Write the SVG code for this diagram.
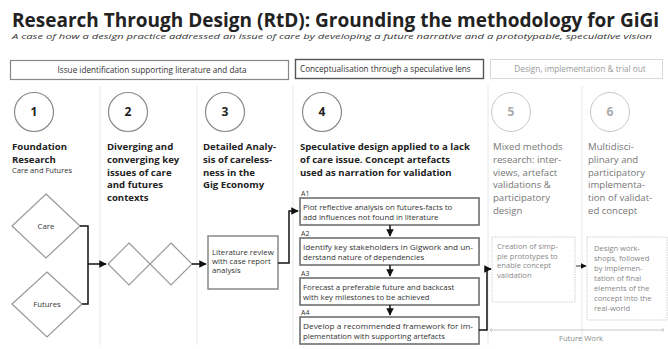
<svg xmlns="http://www.w3.org/2000/svg" width="668" height="349" viewBox="0 0 668 349">
<defs>
<marker id="ah" viewBox="0 0 10 10" refX="9" refY="5" markerWidth="5" markerHeight="5" orient="auto"><path d="M0,0 L10,5 L0,10 z" fill="#111"/></marker>
<style>
text{font-family:"Open Sans","Liberation Sans",sans-serif;fill:#222}
.title{font-size:19px;font-weight:bold}
.sub{font-size:7px;font-style:italic;fill:#333}
.phase{font-size:8.2px;fill:#333}
.sep{stroke:#e6e6e6;stroke-width:1}
.circ{fill:none;stroke:#8a8a8a;stroke-width:1.2}
.circl{fill:none;stroke:#c8c8c8;stroke-width:1}
.num{font-size:12px;font-weight:bold;text-anchor:middle}
.numl{font-size:12px;font-weight:bold;text-anchor:middle;fill:#aaa}
.hd{font-size:9.6px;font-weight:bold}
.hdl{font-size:9.6px;fill:#777}
.small{font-size:7.8px;fill:#333}
.smalll{font-size:7.6px;fill:#888}
.dia{fill:#fff;stroke:#999;stroke-width:1.2}
.box{fill:#fff;stroke:#666;stroke-width:1.5}
.boxl{fill:#fff;stroke:#d0d0d0;stroke-width:1;stroke-dasharray:1.5 1}
.lab{font-size:7px;fill:#333}
.con{fill:none;stroke:#111;stroke-width:1.5}
</style>
</defs>
<rect width="668" height="349" fill="#fff"/>
<text class="title" x="12" y="27">Research Through Design (RtD): Grounding the methodology for GiGi</text>
<text class="sub" x="12" y="39" textLength="640" lengthAdjust="spacingAndGlyphs">A case of how a design practice addressed an issue of care by developing a future narrative and a prototypable, speculative vision</text>

<g id="separators">
<line class="sep" x1="100" y1="86" x2="100" y2="345"/>
<line class="sep" x1="197" y1="86" x2="197" y2="345"/>
<line class="sep" x1="293" y1="86" x2="293" y2="345"/>
<line class="sep" x1="488" y1="86" x2="488" y2="345"/>
<line class="sep" x1="582" y1="86" x2="582" y2="345"/>
</g>

<g id="phase1"><rect x="10.5" y="60.5" width="278" height="19" fill="#fff" stroke="#888" stroke-width="1.2"/><text class="phase" x="152" y="73" text-anchor="middle">Issue identification supporting literature and data</text></g>
<g id="phase2"><rect x="295.5" y="59.5" width="188" height="19" fill="#fff" stroke="#555" stroke-width="1.4"/><text class="phase" x="300" y="72">Conceptualisation through a speculative lens</text></g>
<g id="phase3"><rect x="490.5" y="59.5" width="172" height="19" fill="#fff" stroke="#d8d8d8" stroke-width="1"/><text class="phase" x="580" y="72" text-anchor="middle" style="fill:#999">Design, implementation &amp; trial out</text></g>

<g id="step1"><circle class="circ" cx="34" cy="112" r="19.5"/><text class="num" x="34" y="116">1</text>
<text class="hd" x="12" y="150">Foundation</text><text class="hd" x="12" y="162.8">Research</text><text class="small" x="12" y="173" style="font-size:7.5px">Care and Futures</text></g>
<g id="step2"><circle class="circ" cx="128" cy="112" r="19.5"/><text class="num" x="128" y="116">2</text>
<text class="hd" x="107" y="150">Diverging and</text><text class="hd" x="107" y="162.8">converging key</text><text class="hd" x="107" y="175.6">issues of care</text><text class="hd" x="107" y="188.4">and futures</text><text class="hd" x="107" y="201.2">contexts</text></g>
<g id="step3"><circle class="circ" cx="225" cy="112" r="19.5"/><text class="num" x="225" y="116">3</text>
<text class="hd" x="203" y="150">Detailed Analy-</text><text class="hd" x="203" y="162.8">sis of careless-</text><text class="hd" x="203" y="175.6">ness in the</text><text class="hd" x="203" y="188.4">Gig Economy</text></g>
<g id="step4"><circle class="circ" cx="322" cy="112" r="19.5"/><text class="num" x="322" y="116">4</text>
<text class="hd" x="300" y="150">Speculative design applied to a lack</text><text class="hd" x="300" y="162.8">of care issue. Concept artefacts</text><text class="hd" x="300" y="175.6">used as narration for validation</text></g>
<g id="step5"><circle class="circl" cx="511" cy="112" r="19.5"/><text class="numl" x="511" y="116">5</text>
<text class="hdl" x="493" y="150">Mixed methods</text><text class="hdl" x="493" y="162.8">research: inter-</text><text class="hdl" x="493" y="175.6">views, artefact</text><text class="hdl" x="493" y="188.4">validations &amp;</text><text class="hdl" x="493" y="201.2">participatory</text><text class="hdl" x="493" y="214">design</text></g>
<g id="step6"><circle class="circl" cx="610" cy="112" r="19.5"/><text class="numl" x="610" y="116">6</text>
<text class="hdl" x="588" y="150">Multidisci-</text><text class="hdl" x="588" y="162.8">plinary and</text><text class="hdl" x="588" y="175.6">participatory</text><text class="hdl" x="588" y="188.4">implementa-</text><text class="hdl" x="588" y="201.2">tion of validat-</text><text class="hdl" x="588" y="214">ed concept</text></g>

<g id="care"><polygon class="dia" points="46,194 80,226 46,258 12,226"/><text class="small" x="46" y="229" text-anchor="middle">Care</text></g>
<g id="futures"><polygon class="dia" points="47,272 82,304 47,337 12,304"/><text class="small" x="47" y="307" text-anchor="middle">Futures</text></g>
<g id="diamond2a"><polygon class="dia" points="129,243 150,264 129,285 108,264"/></g>
<g id="diamond2b"><polygon class="dia" points="171,243 192,264 171,285 150,264"/></g>
<g id="litreview"><rect class="box" x="208" y="236" width="70" height="53" style="stroke:#888"/><text class="small" x="212" y="255">Literature review</text><text class="small" x="212" y="264">with case report</text><text class="small" x="212" y="273">analysis</text></g>

<g id="a1"><text class="lab" x="301" y="196">A1</text><rect class="box" x="300" y="198" width="179" height="27"/><text class="small" x="303" y="210">Plot reflective analysis on futures-facts to</text><text class="small" x="303" y="220">add influences not found in literature</text></g>
<g id="a2"><text class="lab" x="301" y="236">A2</text><rect class="box" x="300" y="238" width="179" height="27"/><text class="small" x="303" y="250" textLength="170" lengthAdjust="spacingAndGlyphs">Identify key stakeholders in Gigwork and un-</text><text class="small" x="303" y="260">derstand nature of dependencies</text></g>
<g id="a3"><text class="lab" x="301" y="276">A3</text><rect class="box" x="300" y="278" width="179" height="27"/><text class="small" x="303" y="290">Forecast a preferable future and backcast</text><text class="small" x="303" y="300">with key milestones to be achieved</text></g>
<g id="a4"><text class="lab" x="301" y="315">A4</text><rect class="box" x="300" y="317" width="179" height="27"/><text class="small" x="303" y="329" textLength="170" lengthAdjust="spacingAndGlyphs">Develop a recommended framework for im-</text><text class="small" x="303" y="339">plementation with supporting artefacts</text></g>

<g id="prototypes"><rect class="boxl" x="492" y="237" width="83" height="65"/><text class="smalll" x="497" y="249">Creation of simp-</text><text class="smalll" x="497" y="258.5">ple prototypes to</text><text class="smalll" x="497" y="268">enable concept</text><text class="smalll" x="497" y="277.5">validation</text></g>
<g id="workshops"><rect class="boxl" x="587" y="237" width="80" height="83"/><text class="smalll" x="594" y="251">Design work-</text><text class="smalll" x="594" y="261">shops, followed</text><text class="smalll" x="594" y="271">by implemen-</text><text class="smalll" x="594" y="281">tation of final</text><text class="smalll" x="594" y="291">elements of the</text><text class="smalll" x="594" y="301">concept into the</text><text class="smalll" x="594" y="311">real-world</text></g>
<g id="futurework"><path d="M492,328 l-2,2 l2,2 M490,330 H664 M662,328 l2,2 l-2,2" fill="none" stroke="#c8c8c8" stroke-width="1"/><text class="smalll" x="581" y="341" text-anchor="middle">Future Work</text></g>

<g id="connectors">
<path class="con" d="M80,226 H88 V304 H82"/>
<path class="con" d="M88,264 H106" marker-end="url(#ah)"/>
<path class="con" d="M192,264 H206" marker-end="url(#ah)"/>
<path class="con" d="M278,263 H289 V211 H298" marker-end="url(#ah)"/>
<path class="con" d="M390,225 V236" marker-end="url(#ah)"/>
<path class="con" d="M390,265 V276" marker-end="url(#ah)"/>
<path class="con" d="M390,305 V315" marker-end="url(#ah)"/>
<path class="con" d="M479,330 H487 V269 H491" marker-end="url(#ah)"/>
<path d="M576,266 H586" fill="none" stroke="#555" stroke-width="1.2" marker-end="url(#ah)"/>
</g>
</svg>
